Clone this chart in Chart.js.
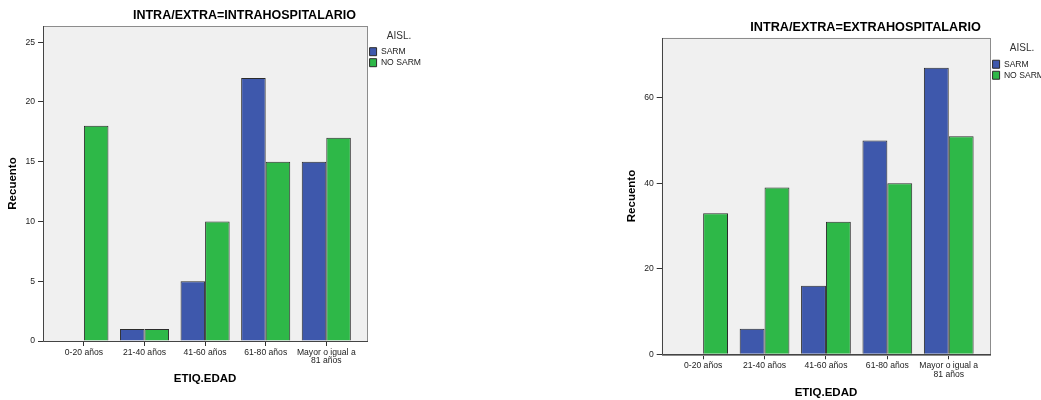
<!DOCTYPE html>
<html>
<head>
<meta charset="utf-8">
<script src="https://cdn.jsdelivr.net/npm/chart.js@4"></script>
<style>
  html, body { margin: 0; padding: 0; background: #fff; overflow: hidden; width: 1041px; height: 400px; position: relative; }
  canvas { position: absolute; top: 0; }
</style>
</head>
<body>
<canvas id="intra" width="489" height="400" style="left:0px"></canvas>
<canvas id="extra" width="491" height="400" style="left:620px"></canvas>
<script>
// categories and counts
const ageGroups = ['0-20 años', '21-40 años', '41-60 años', '61-80 años', ['Mayor o igual a', '81 años']];
const seriesNames = ['SARM', 'NO SARM'];

const intraSarm = [0, 1, 5, 22, 15];
const intraNoSarm = [18, 1, 10, 15, 17];
const intraTicks = [0, 5, 10, 15, 20, 25];

const extraSarm = [0, 6, 16, 50, 67];
const extraNoSarm = [33, 39, 31, 40, 51];
const extraTicks = [0, 20, 40, 60];

const FONT = '"Liberation Sans", Arial, sans-serif';
const BLUE = '#3e58ac';
const GREEN = '#2eb848';
const EDGE = '#2b2b2b';
const EDGE_PAD = 0.675; // SPSS leaves a bit more room than half a category at each end

// grey plot frame behind the bars, axis lines in front
const plotBox = {
    id: 'plotBox',
    afterLayout(chart) {
        // title is centred on the whole panel, not on what the right padding leaves
        const t = chart.titleBlock;
        if (t) { t.left = 0; t.right = chart.width; t.width = chart.width; }
    },
    beforeDraw(chart) {
        const { ctx, chartArea: a } = chart;
        ctx.save();
        ctx.fillStyle = '#f0f0f0';
        ctx.fillRect(a.left, a.top, a.right - a.left, a.bottom - a.top);
        ctx.restore();
    },
    afterDatasetsDraw(chart) {
        const { ctx, chartArea: a } = chart;
        ctx.save();
        ctx.lineWidth = 1;
        ctx.strokeStyle = '#8c8c8c';
        ctx.strokeRect(Math.round(a.left) + 0.5, Math.round(a.top) + 0.5,
            Math.round(a.right - a.left), Math.round(a.bottom - a.top));
        ctx.strokeStyle = '#444';
        ctx.beginPath();
        ctx.moveTo(Math.round(a.left) + 0.5, Math.round(a.top));
        ctx.lineTo(Math.round(a.left) + 0.5, Math.round(a.bottom) + 0.5);
        ctx.lineTo(Math.round(a.right) + 1, Math.round(a.bottom) + 0.5);
        ctx.stroke();
        ctx.restore();
    }
};

function makeChart(id, title, sarm, noSarm, tickValues, yMax, lay) {
    return new Chart(document.getElementById(id), {
        type: 'bar',
        data: {
            labels: ageGroups,
            datasets: [
                { label: seriesNames[0], data: sarm, backgroundColor: BLUE, borderColor: EDGE, borderWidth: 1 },
                { label: seriesNames[1], data: noSarm, backgroundColor: GREEN, borderColor: EDGE, borderWidth: 1 }
            ]
        },
        options: {
            responsive: false,
            animation: false,
            devicePixelRatio: 1,
            layout: { padding: { top: 0, left: 0, bottom: 0, right: lay.padRight } },
            datasets: { bar: { categoryPercentage: 0.81, barPercentage: 1 } },
            plugins: {
                tooltip: { enabled: false },
                title: {
                    display: true,
                    text: title,
                    color: '#000',
                    font: { family: FONT, size: lay.titleSize, weight: 'bold', lineHeight: 1.2 },
                    padding: { top: lay.titleTop, bottom: lay.titleBottom }
                },
                legend: {
                    position: 'right',
                    align: 'start',
                    fullSize: false,
                    title: {
                        display: true,
                        text: 'AISL.',
                        color: '#333',
                        font: { family: FONT, size: 10, lineHeight: 1.2 },
                        padding: { top: lay.legendTop, bottom: 2 }
                    },
                    labels: {
                        boxWidth: 7,
                        boxHeight: 8,
                        padding: 2.4,
                        color: '#222',
                        font: { family: FONT, size: 8.6 }
                    }
                }
            },
            scales: {
                x: {
                    offset: true,
                    border: { display: false },
                    grid: { drawOnChartArea: false, offset: false, tickLength: 5, color: '#333' },
                    ticks: {
                        autoSkip: false,
                        maxRotation: 0,
                        padding: 2.6,
                        color: '#222',
                        font: { family: FONT, size: 8.6, lineHeight: 0.95 }
                    },
                    title: {
                        display: true,
                        text: 'ETIQ.EDAD',
                        color: '#000',
                        font: { family: FONT, size: 11.5, weight: 'bold', lineHeight: 1.2 },
                        padding: { top: 0, bottom: lay.xTitleBottom }
                    },
                    afterBuildTicks: (s) => {
                        s._startValue = -EDGE_PAD;
                        s._valueRange = ageGroups.length - 1 + 2 * EDGE_PAD;
                    },
                    afterFit: (s) => { s.height = lay.xHeight; }
                },
                y: {
                    min: 0,
                    max: yMax,
                    border: { display: false },
                    grid: { drawOnChartArea: false, tickLength: 5, color: '#333' },
                    ticks: {
                        includeBounds: false,
                        padding: 3,
                        color: '#222',
                        font: { family: FONT, size: 8.6 }
                    },
                    afterBuildTicks: (s) => { s.ticks = tickValues.map(v => ({ value: v })); },
                    title: {
                        display: true,
                        text: 'Recuento',
                        color: '#000',
                        font: { family: FONT, size: 11.5, weight: 'bold', lineHeight: 1.2 },
                        padding: { top: lay.yTitleTop, bottom: 0 }
                    },
                    afterFit: (s) => { s.width = lay.yWidth; }
                }
            }
        },
        plugins: [plotBox]
    });
}

makeChart('intra', 'INTRA/EXTRA=INTRAHOSPITALARIO', intraSarm, intraNoSarm, intraTicks, 26.35, {
    padRight: 58, titleSize: 12.5, titleTop: 8.3, titleBottom: 2.7, legendTop: 5,
    xHeight: 59, xTitleBottom: 14.1, yWidth: 43, yTitleTop: 6.1
});

makeChart('extra', 'INTRA/EXTRA=EXTRAHOSPITALARIO', extraSarm, extraNoSarm, extraTicks, 74, {
    padRight: 57, titleSize: 12.7, titleTop: 20.1, titleBottom: 2.4, legendTop: 5.8,
    xHeight: 45.7, xTitleBottom: 0.1, yWidth: 41.7, yTitleTop: 4.6
});
</script>
</body>
</html>
